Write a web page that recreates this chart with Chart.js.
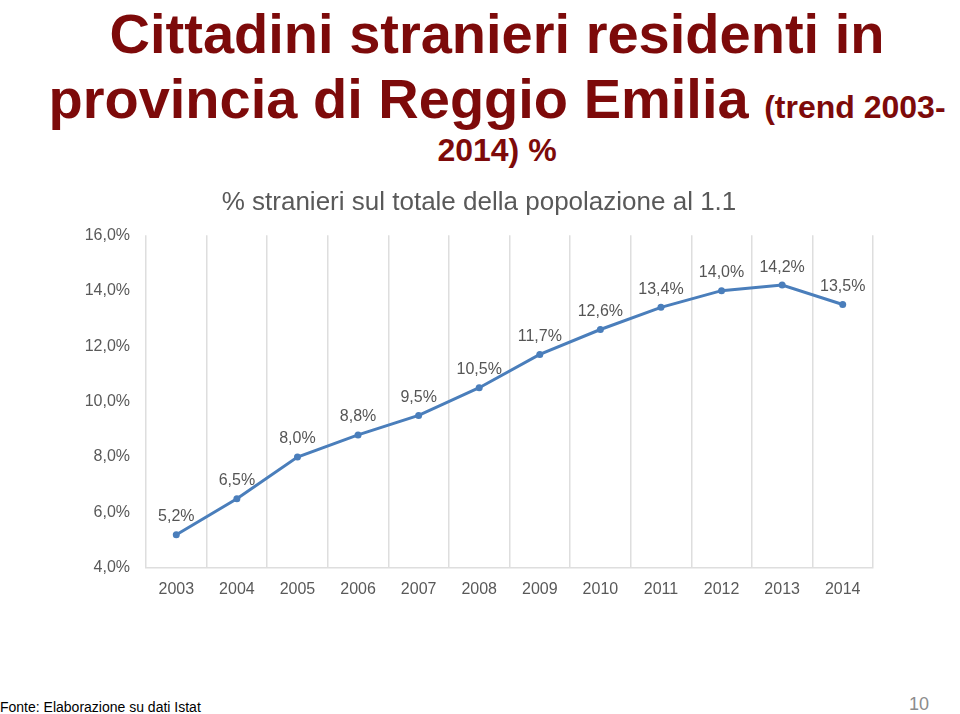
<!DOCTYPE html>
<html>
<head>
<meta charset="utf-8">
<script src="https://cdn.jsdelivr.net/npm/chart.js@4/dist/chart.umd.min.js"></script>
<style>
  body { margin: 0; width: 960px; height: 714px; background: #fff; position: relative; overflow: hidden; font-family: "Liberation Sans", Arial, sans-serif; }
  .t { position: absolute; left: 0; width: 994px; text-align: center; color: #7d0a0a; font-weight: bold; white-space: nowrap; line-height: 1; }
  .small { font-size: 32px; }
  #box { position: absolute; left: 85px; top: 175px; width: 875px; height: 445px; }
  #fonte { position: absolute; left: 0; top: 699px; font-size: 14px; color: #000; }
  #page { position: absolute; left: 909px; top: 694px; font-size: 18px; color: #8c8c8c; }
</style>
</head>
<body>
<div class="t" style="top:6px;font-size:56px;">Cittadini stranieri residenti in</div>
<div class="t" style="top:71px;font-size:56px;">provincia di Reggio Emilia <span class="small">(trend 2003-</span></div>
<div class="t small" style="top:134px;">2014) %</div>
<div id="box"><canvas id="chart"></canvas></div>
<div id="fonte">Fonte: Elaborazione su dati Istat</div>
<div id="page">10</div>
<script>
// anni e percentuale di stranieri sul totale
const anni = ['2003', '2004', '2005', '2006', '2007', '2008', '2009', '2010', '2011', '2012', '2013', '2014'];
const quota = [5.2, 6.5, 8.0, 8.8, 9.5, 10.5, 11.7, 12.6, 13.4, 14.0, 14.2, 13.5];
const yMin = 4, yMax = 16, yStep = 2;

const fmt = v => v.toFixed(1).replace('.', ',') + '%';

// etichette sopra i punti
const etichette = {
  id: 'etichette',
  afterDatasetsDraw(chart) {
    const ctx = chart.ctx;
    const meta = chart.getDatasetMeta(0);
    ctx.save();
    ctx.font = '16px "Liberation Sans", Arial, sans-serif';
    ctx.fillStyle = '#555555';
    ctx.textAlign = 'center';
    ctx.textBaseline = 'middle';
    meta.data.forEach((pt, i) => {
      ctx.fillText(fmt(quota[i]), pt.x, pt.y - 18);
    });
    ctx.restore();
  }
};

const ctx = document.getElementById('chart').getContext('2d');
new Chart(ctx, {
  type: 'line',
  data: {
    labels: anni,
    datasets: [{
      data: quota,
      borderColor: '#4a7ebb',
      backgroundColor: '#4a7ebb',
      borderWidth: 3,
      pointRadius: 3.5,
      pointBorderWidth: 0,
      tension: 0
    }]
  },
  options: {
    responsive: true,
    maintainAspectRatio: false,
    animation: false,
    layout: { padding: { left: 0, right: 87, top: 0, bottom: 0 } },
    plugins: {
      legend: { display: false },
      tooltip: { enabled: false },
      title: {
        display: true,
        text: '% stranieri sul totale della popolazione al 1.1',
        color: '#595959',
        font: { family: '"Liberation Sans", Arial, sans-serif', size: 26, weight: 'normal' },
        padding: { top: 12, bottom: 17 }
      }
    },
    scales: {
      x: {
        offset: true,
        grid: { offset: true, color: '#dedede', lineWidth: 1.5, drawTicks: false },
        border: { color: '#dedede', width: 1.5 },
        ticks: { color: '#595959', padding: 12, font: { family: '"Liberation Sans", Arial, sans-serif', size: 16 } },
        afterFit: s => { s.height = 52; }
      },
      y: {
        min: yMin,
        max: yMax,
        grid: { display: false, drawTicks: false },
        border: { display: false },
        ticks: {
          stepSize: yStep,
          padding: 16,
          color: '#595959',
          font: { family: '"Liberation Sans", Arial, sans-serif', size: 16 },
          callback: v => fmt(v)
        },
        afterFit: s => { s.width = 61; }
      }
    }
  },
  plugins: [etichette]
});
</script>
</body>
</html>
